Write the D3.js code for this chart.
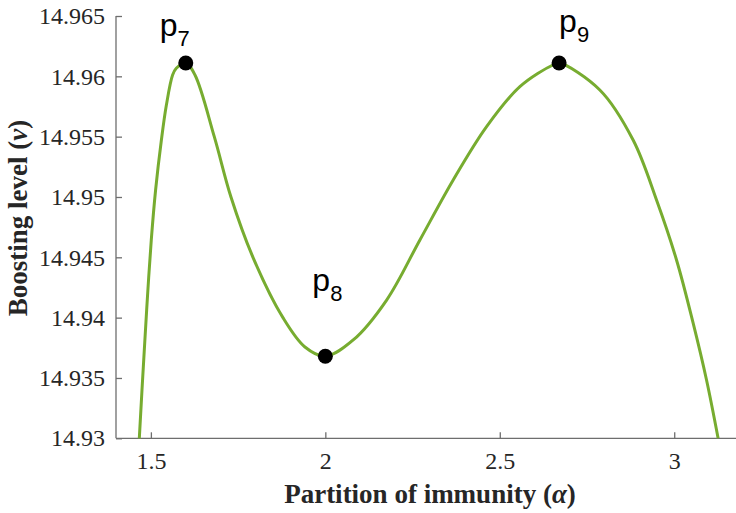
<!DOCTYPE html>
<meta charset="utf-8">
<title>Boosting level vs partition of immunity</title>
<style>
  body { margin: 0; background-color: white; }
</style>
<svg width="736" height="513"></svg>
<script src="https://d3js.org/d3.v7.min.js"></script>
<script>
// curve: partition of immunity (alpha) vs boosting level (nu)
var alpha = [1.4668, 1.4745, 1.4828, 1.4914, 1.5011, 1.5135, 1.5301, 1.5444, 1.5622, 1.5728, 1.6,
             1.6264, 1.6817, 1.7295, 1.7926, 1.8785, 1.9415, 2.0,
             2.08, 2.1757, 2.2711, 2.3665, 2.4622, 2.5576, 2.6521, 2.67,
             2.7868, 2.8822, 2.9493, 3.0066, 3.0541, 3.0926, 3.1258];
var nu = [14.93, 14.934, 14.93815, 14.94229, 14.94643, 14.95058, 14.95472, 14.95762, 14.96011, 14.96067, 14.9611,
          14.96011, 14.955, 14.95, 14.945, 14.94, 14.93757, 14.9368,
          14.93815, 14.94146, 14.94644, 14.95141, 14.95583, 14.95914, 14.96094, 14.9611,
          14.95887, 14.95472, 14.94975, 14.94478, 14.93956, 14.93483, 14.93];

// marked points
var ptNames = ["7", "8", "9"];
var ptAlpha = [1.6, 2.0, 2.67];
var ptNu = [14.9611, 14.9368, 14.9611];

var xTicks = [1.5, 2, 2.5, 3];
var yTicks = [14.93, 14.935, 14.94, 14.945, 14.95, 14.955, 14.96, 14.965];

var serif = "'Liberation Serif', 'Times New Roman', serif";
var sans = "'Liberation Sans', Arial, sans-serif";

var svg = d3.select("svg");
var x = d3.scaleLinear().domain([1.4, 3.2]).range([116, 744]);
var y = d3.scaleLinear().domain([14.93, 14.965]).range([438.3, 16]);

function styleAxis(g) {
  g.attr("font-family", serif).attr("font-size", 24);
  g.selectAll("text").style("font-family", serif).style("font-size", "24px").attr("fill", "#262626");
  g.selectAll("line, path").attr("stroke", "#6e6e6e").attr("stroke-width", 1.3);
}

svg.append("g")
    .attr("transform", "translate(0,438.3)")
    .call(d3.axisBottom(x).tickValues(xTicks).tickSize(-6).tickPadding(14).tickFormat(d3.format("")))
    .call(function(g) { g.select(".domain").attr("d", "M116,0H744"); })
    .call(styleAxis);

svg.append("g")
    .attr("transform", "translate(116,0)")
    .call(d3.axisLeft(y).tickValues(yTicks).tickSize(-6).tickPadding(11).tickFormat(d3.format("")))
    .call(function(g) { g.select(".domain").attr("d", "M0,16V438.3"); })
    .call(styleAxis);

var data = alpha.map(function(a, i) { return [a, nu[i]]; });
var line = d3.line()
    .x(function(d) { return x(d[0]); })
    .y(function(d) { return y(d[1]); })
    .curve(d3.curveCatmullRom.alpha(0.5));

svg.append("path")
    .datum(data)
    .attr("d", line)
    .attr("fill", "none")
    .attr("stroke", "#77ac30")
    .attr("stroke-width", 3);

svg.selectAll("circle.pt")
    .data(ptNames)
    .enter().append("circle")
    .attr("cx", function(d, i) { return x(ptAlpha[i]); })
    .attr("cy", function(d, i) { return y(ptNu[i]); })
    .attr("r", 7.5)
    .attr("fill", "#000");

// label offsets from each point (px)
var offX = [-26, -13, 0];
var offY = [-27, -65, -31];
ptNames.forEach(function(n, i) {
  var t = svg.append("text")
      .style("font-family", sans)
      .attr("fill", "#000")
      .attr("x", x(ptAlpha[i]) + offX[i])
      .attr("y", y(ptNu[i]) + offY[i]);
  t.append("tspan").style("font-size", "32px").text("p");
  t.append("tspan").style("font-size", "22px").attr("dy", 10).text(n);
});

function styleLabel(t) {
  t.style("font-family", serif).style("font-size", "27px").style("font-weight", "bold")
   .attr("fill", "#262626").attr("text-anchor", "middle");
}

var xl = svg.append("text").attr("x", 430).attr("y", 503).call(styleLabel);
xl.append("tspan").text("Partition of immunity (");
xl.append("tspan").style("font-style", "italic").text("α");
xl.append("tspan").text(")");

var yl = svg.append("text").attr("transform", "translate(27,218) rotate(-90)").call(styleLabel);
yl.append("tspan").text("Boosting level (");
yl.append("tspan").style("font-style", "italic").text("ν");
yl.append("tspan").text(")");
</script>
